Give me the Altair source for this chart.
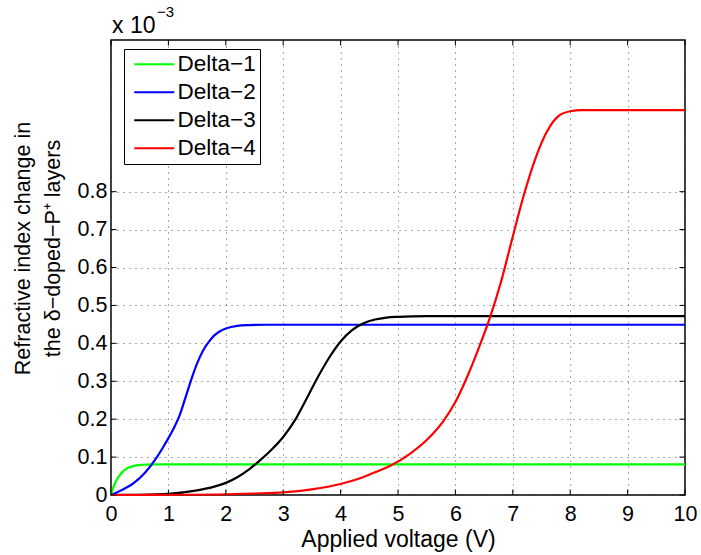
import altair as alt
import pandas as pd

# ---- data (y in units of 1e-3) ----
series_names = ["Delta−1", "Delta−2", "Delta−3", "Delta−4"]
series_colors = ["#00ff00", "#0000ff", "#000000", "#ff0000"]

d1_x = [0, 0.05, 0.1, 0.15, 0.2, 0.3, 0.4, 0.5, 0.6, 0.8, 1.0, 10]
d1_y = [0, 0.024, 0.040, 0.052, 0.061, 0.072, 0.077, 0.079, 0.080, 0.081, 0.081, 0.081]

d2_x = [0, 0.2, 0.4, 0.6, 0.8, 0.9, 1.0, 1.1, 1.2, 1.3, 1.4, 1.5, 1.6, 1.7, 1.8, 1.9, 2.0, 2.2, 2.4, 2.7, 10]
d2_y = [0, 0.014, 0.032, 0.060, 0.100, 0.124, 0.150, 0.178, 0.212, 0.258, 0.305, 0.347, 0.380, 0.403,
        0.421, 0.432, 0.439, 0.446, 0.448, 0.449, 0.449]

d3_x = [0, 0.5, 1.0, 1.5, 1.8, 2.0, 2.2, 2.4, 2.6, 2.8, 3.0, 3.2, 3.4, 3.6, 3.8, 4.0, 4.2, 4.4, 4.6,
        4.8, 5.0, 5.5, 10]
d3_y = [0, 0.0005, 0.003, 0.012, 0.022, 0.032, 0.047, 0.067, 0.092, 0.120, 0.153, 0.196, 0.252, 0.310,
        0.362, 0.405, 0.435, 0.453, 0.463, 0.468, 0.470, 0.472, 0.472]

d4_x = [0, 1.0, 2.0, 2.5, 3.0, 3.5, 4.0, 4.3, 4.6, 4.9, 5.2, 5.5, 5.8, 6.0, 6.2, 6.4, 6.6, 6.8, 7.0,
        7.2, 7.4, 7.6, 7.8, 8.0, 8.2, 10]
d4_y = [0, 0.0005, 0.002, 0.004, 0.007, 0.015, 0.029, 0.042, 0.060, 0.080, 0.108, 0.145, 0.197, 0.245,
        0.310, 0.385, 0.467, 0.565, 0.682, 0.795, 0.890, 0.960, 1.000, 1.012, 1.015, 1.015]

x_ticks = [0, 1, 2, 3, 4, 5, 6, 7, 8, 9, 10]
y_ticks = [0, 0.1, 0.2, 0.3, 0.4, 0.5, 0.6, 0.7, 0.8]

x_title = "Applied voltage (V)"
y_title = ["Refractive index change in", "the δ−doped−P⁺ layers"]
exponent_base = ["x 10"]
exponent_power = ["−3"]

# ---- build table ----
rows = []
for name, xs, ys in zip(series_names, [d1_x, d2_x, d3_x, d4_x], [d1_y, d2_y, d3_y, d4_y]):
    for xv, yv in zip(xs, ys):
        rows.append({"series": name, "V": xv, "dn": yv})
df = pd.DataFrame(rows)

W, H = 574, 455
FONT = "Liberation Sans"

xscale = alt.Scale(domain=[0, 10], nice=False, zero=False)
yscale = alt.Scale(domain=[0, 1.2], nice=False, zero=False)

lines = alt.Chart(df).mark_line(strokeWidth=2.2, interpolate="monotone").encode(
    x=alt.X("V:Q", scale=xscale,
            axis=alt.Axis(values=x_ticks, format="d", title=x_title, titleFontSize=23,
                          titleBaseline="alphabetic", titleY=51, titleFontWeight="normal",
                          labelFontSize=21.5, labelBaseline="alphabetic", labelPadding=25,
                          ticks=False, domain=False, grid=True, gridDash=[1, 5],
                          gridColor="#555555", gridWidth=1, labelColor="black",
                          titleColor="black", labelFlush=False)),
    y=alt.Y("dn:Q", scale=yscale,
            axis=alt.Axis(values=y_ticks, format="~g", title=y_title, titleFontSize=21.5,
                          titleFontWeight="normal", titleAngle=270, titleBaseline="alphabetic",
                          titleX=-82, titleY=208, titleLineHeight=30,
                          labelFontSize=21.5, labelPadding=4, ticks=False, domain=False,
                          grid=True, gridDash=[1, 5], gridColor="#555555", gridWidth=1,
                          labelColor="black", titleColor="black", labelFlush=False)),
    color=alt.Color("series:N", title=None,
                    scale=alt.Scale(domain=series_names, range=series_colors),
                    legend=alt.Legend(orient="none", legendX=13, legendY=9,
                                      symbolType="M-0.5,0H3.5", symbolSize=400,
                                      symbolStrokeWidth=2, symbolFillColor="transparent",
                                      labelFontSize=22.5,
                                      labelOffset=27, padding=4, rowPadding=5,
                                      strokeColor="black", fillColor="white",
                                      labelColor="black", cornerRadius=0)),
)

xt = pd.DataFrame({"t": x_ticks})
yt = pd.DataFrame({"t": y_ticks})
tick_len = 5.5
ticks_bottom = alt.Chart(xt).mark_rule(color="black", strokeWidth=1).encode(
    x=alt.X("t:Q", scale=xscale), y=alt.value(H), y2=alt.value(H - tick_len))
ticks_top = alt.Chart(xt).mark_rule(color="black", strokeWidth=1).encode(
    x=alt.X("t:Q", scale=xscale), y=alt.value(0), y2=alt.value(tick_len))
ticks_left = alt.Chart(yt).mark_rule(color="black", strokeWidth=1).encode(
    y=alt.Y("t:Q", scale=yscale), x=alt.value(0), x2=alt.value(tick_len))
ticks_right = alt.Chart(yt).mark_rule(color="black", strokeWidth=1).encode(
    y=alt.Y("t:Q", scale=yscale), x=alt.value(W), x2=alt.value(W - tick_len))

exp_base = alt.Chart(pd.DataFrame({"s": exponent_base})).mark_text(
    align="left", baseline="alphabetic", fontSize=23, font=FONT, color="black").encode(
    text="s:N", x=alt.value(1), y=alt.value(-7))
exp_pow = alt.Chart(pd.DataFrame({"s": exponent_power})).mark_text(
    align="left", baseline="alphabetic", fontSize=15, font=FONT, color="black").encode(
    text="s:N", x=alt.value(46), y=alt.value(-23))

chart = alt.layer(
    lines, ticks_bottom, ticks_top, ticks_left, ticks_right, exp_base, exp_pow
).properties(
    width=W, height=H,
    autosize=alt.AutoSizeParams(type="none"),
    padding={"left": 111, "top": 40, "right": 16, "bottom": 60},
    background="white",
).configure(font=FONT).configure_view(
    stroke="black", strokeWidth=1.5
)

chart.save("out.html", embed_options={"renderer": "svg", "actions": False})
